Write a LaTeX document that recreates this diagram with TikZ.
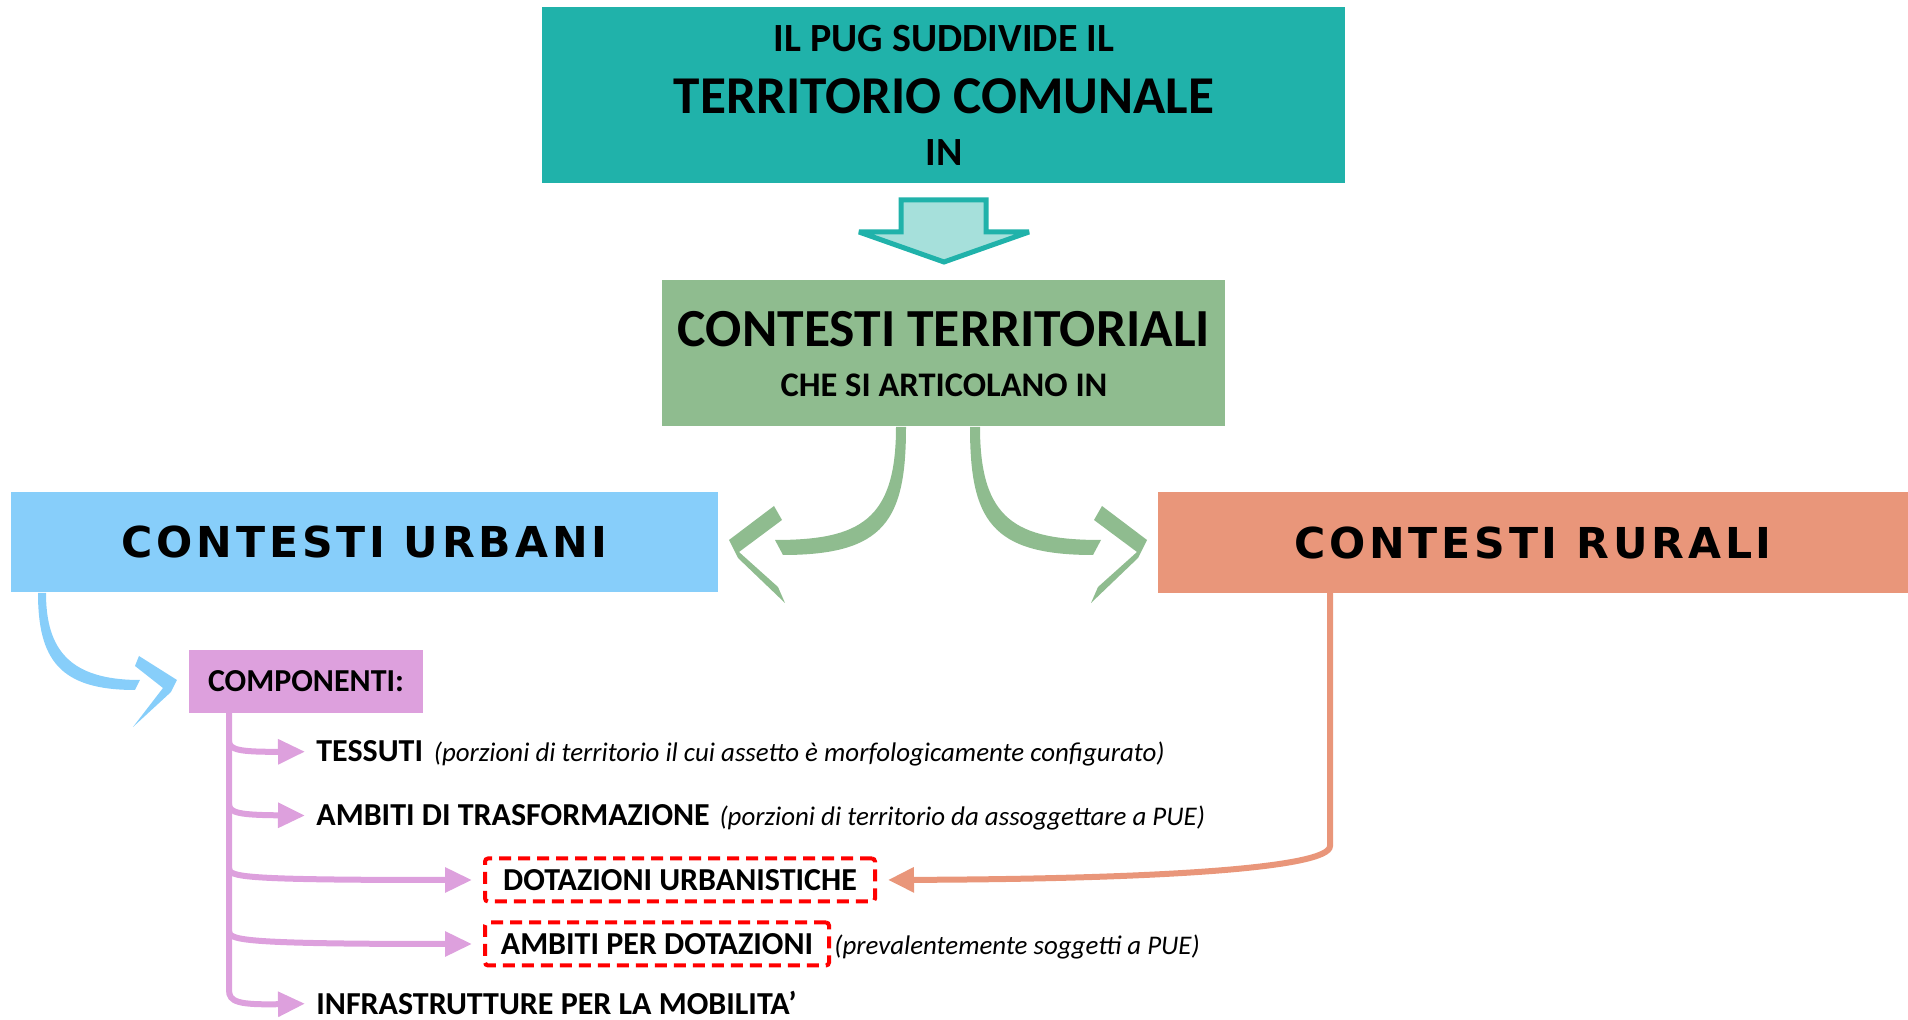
\documentclass[tikz,border=0pt]{standalone}
\usepackage{fontspec}
\setmainfont{Carlito}
\newfontfamily\trackfont{DejaVu Sans}[LetterSpace=9]
\usetikzlibrary{arrows.meta,positioning,calc}
\definecolor{pugteal}{HTML}{20B2AA}
\definecolor{pugpale}{HTML}{A6E0DB}
\definecolor{ctxgreen}{HTML}{8FBC8F}
\definecolor{urbblue}{HTML}{87CEFA}
\definecolor{rursalmon}{HTML}{E9967A}
\definecolor{comppink}{HTML}{DDA0DD}
\newcommand{\fsz}[1]{\fontsize{#1pt}{#1pt}\selectfont}
\begin{document}
\begin{tikzpicture}[x=0.5pt, y=-0.5pt, every node/.style={inner sep=0pt},
    block/.style={rectangle, inner sep=0pt, font=\bfseries},
    item/.style={anchor=base west, font=\fsz{16}\bfseries},
    note/.style={anchor=base west, font=\fsz{13.45}\itshape},
    dashbox/.style={draw=red, line width=2pt, dash pattern=on 6pt off 3.5pt, rounded corners=1.5pt, anchor=west, minimum height=21.5pt, font=\fsz{16}\bfseries},
    branch/.style={draw=comppink, line width=3pt, -{Triangle[length=13.5pt,width=12pt]}, shorten >=5.5pt}]
\useasboundingbox (0,0) rectangle (1908,1020);

% boxes
\node[block, fill=pugteal, minimum width=401.5pt, minimum height=88pt] (pug) at (943.5,95.5) {};
\node[anchor=base, font=\fsz{20}\bfseries] (pugtop) at (944,52) {IL PUG SUDDIVIDE IL};
\node[anchor=base, font=\fsz{26.6}\bfseries] (pugmid) at (944,114) {TERRITORIO COMUNALE};
\node[anchor=base, font=\fsz{20}\bfseries] (pugin) at (944,166) {IN};

\node[block, fill=ctxgreen, minimum width=281.5pt, minimum height=73pt] (ctx) at (943.5,353) {};
\node[anchor=base, font=\fsz{26.8}\bfseries] (ctxtitle) at (944,347) {CONTESTI TERRITORIALI};
\node[anchor=base, font=\fsz{17.25}\bfseries] (ctxsub) at (944,397) {CHE SI ARTICOLANO IN};

\node[block, fill=urbblue, minimum width=353.5pt, minimum height=50pt, font=\trackfont\bfseries\fsz{21.3}] (urban) at (364.5,542) {CONTESTI URBANI};
\node[block, fill=rursalmon, minimum width=375pt, minimum height=50.5pt, font=\trackfont\bfseries\fsz{21.3}] (rural) at (1533,542.5) {CONTESTI RURALI};
\node[block, fill=comppink, minimum width=117pt, minimum height=31.5pt, font=\fsz{16}\bfseries] (comp) at (306,681.5) {COMPONENTI:};

% list
\node[item] (tessuti) at (316,762) {TESSUTI};
\node[note] (tessutinote) at ([xshift=5pt]tessuti.base east) {(porzioni di territorio il cui assetto è morfologicamente configurato)};
\node[item] (trasf) at (316,826) {AMBITI DI TRASFORMAZIONE};
\node[note] (trasfnote) at ([xshift=4.5pt]trasf.base east) {(porzioni di territorio da assoggettare a PUE)};
\node[dashbox, minimum width=195pt] (dotaz) at (483,880) {DOTAZIONI URBANISTICHE};
\node[dashbox, minimum width=172pt] (ambdot) at (483,944) {AMBITI PER DOTAZIONI};
\node[note] (ambdotnote) at ([xshift=1.5pt]ambdot.base east) {(prevalentemente soggetti a PUE)};
\node[item] (infra) at (316,1015) {INFRASTRUTTURE PER LA MOBILITA’};

% hollow arrow
\draw[draw=pugteal, fill=pugpale, line width=2.5pt, line join=miter, miter limit=2] (901,200) -- (986,200) -- (986,232) -- (1029,232) -- (944,262) -- (859,232) -- (901,232) -- cycle;

% curved arrows
\fill[ctxgreen] (896,427) .. controls (896,520) and (860,540) .. (775,540) -- (783,555) .. controls (885,555) and (906,520) .. (906,427) -- cycle;
\fill[ctxgreen] (774,506) -- (729,540) -- (738,558) -- (785,603) -- (778,587) -- (739,552) -- (782,520) -- cycle;
\fill[ctxgreen] (980,427) .. controls (980,520) and (1016,540) .. (1101,540) -- (1093,555) .. controls (991,555) and (970,520) .. (970,427) -- cycle;
\fill[ctxgreen] (1102,506) -- (1147,540) -- (1138,558) -- (1091,603) -- (1098,587) -- (1137,552) -- (1094,520) -- cycle;
\fill[urbblue] (38,593) .. controls (38,660) and (60,690) .. (135,690) -- (140,680) .. controls (70,680) and (46,650) .. (46,593) -- cycle;
\fill[urbblue] (139,656) -- (177,680) -- (171,692) -- (133,727) -- (163,688) -- (135,666) -- cycle;

% connectors
\coordinate (trunk) at (229,713);
\draw[branch] (trunk) -- (229,990) .. controls (229,1002) and (238,1005) .. (infra.west);
\draw[branch] (229,741) .. controls (229,750) and (240,752) .. (tessuti.west);
\draw[branch] (229,804) .. controls (229,813) and (240,815) .. (trasf.west);
\draw[branch] (229,868) .. controls (229,877) and (240,880) .. (dotaz.west);
\draw[branch] (229,931) .. controls (229,940) and (240,944) .. (ambdot.west);
\coordinate (ruraldrop) at (1330,593);
\draw[draw=rursalmon, line width=3pt, -{Triangle[length=13pt,width=12pt]}, shorten >=5.5pt] (ruraldrop) -- (1330,846) .. controls (1330,868) and (1160,879) .. (dotaz.east);
\end{tikzpicture}
\end{document}
